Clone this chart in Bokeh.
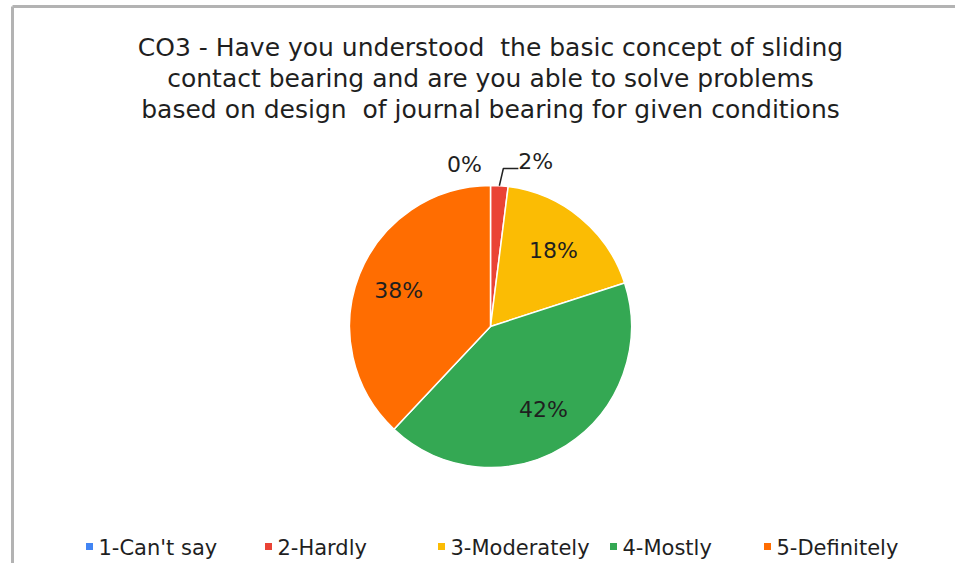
import math
from bokeh.plotting import figure
from bokeh.models import Range1d, ColumnDataSource
from bokeh.core.properties import value
from bokeh.embed import file_html
from bokeh.resources import INLINE

# ---- data ----
categories = ["1-Can't say", "2-Hardly", "3-Moderately", "4-Mostly", "5-Definitely"]
counts = [0, 1, 9, 21, 19]
colors = ["#4285F4", "#EA4335", "#FBBC04", "#34A853", "#FF6D01"]
title_lines = [
    "CO3 - Have you understood\u00a0 the basic concept of sliding",
    "contact bearing and are you able to solve problems",
    "based on design\u00a0 of journal bearing for given conditions",
]

W, H = 955, 563
FONT = "DejaVu Sans"
TXT = "#1f1f1f"

p = figure(width=W, height=H, output_backend="svg", toolbar_location=None,
           x_range=Range1d(0, W), y_range=Range1d(0, H), min_border=0)
p.axis.visible = False
p.grid.visible = False
p.outline_line_color = None
p.background_fill_color = "white"

def sx(x):
    return x

def sy(y):
    return H - y

# border
p.line([sx(12), sx(12)], [0, sy(6)], line_color="#b3b3b3", line_width=3)
p.line([sx(12), W], [sy(6), sy(6)], line_color="#b3b3b3", line_width=3)

# title
p.text(x=[sx(490)] * 3, y=[sy(47), sy(78), sy(109)], text=title_lines,
       text_font=value(FONT), text_font_size="25px", text_color=TXT,
       text_align="center", text_baseline="middle")

# pie
cx, cy, R = sx(490), sy(326), 141
total = sum(counts)
fr = [c / total for c in counts]
cum = [0]
for f in fr:
    cum.append(cum[-1] + f)
starts = [math.pi / 2 - 2 * math.pi * a for a in cum[:-1]]
ends = [math.pi / 2 - 2 * math.pi * a for a in cum[1:]]
src = ColumnDataSource(dict(start=starts, end=ends, color=colors))
p.wedge(x=cx, y=cy, radius=R, radius_units="screen", start_angle="start",
        end_angle="end", direction="clock", fill_color="color",
        line_color="white", line_width=1.5, source=src)

labels = [f"{round(f * 100)}%" for f in fr]
lx, ly = [], []
for i, f in enumerate(fr):
    mid = 2 * math.pi * (cum[i] + f / 2)
    if f >= 0.05:
        lx.append(cx + 0.70 * R * math.sin(mid))
        ly.append(cy + 0.70 * R * math.cos(mid))
big = [i for i, f in enumerate(fr) if f >= 0.05]
p.text(x=lx, y=ly, text=[labels[i] for i in big], text_font=value(FONT),
       text_font_size="22px", text_color=TXT, text_align="center",
       text_baseline="middle")

# small slice labels (0%, 2%)
a1 = 2 * math.pi * (cum[1] + fr[1] / 2)
ex, ey = cx + R * math.sin(a1), cy + R * math.cos(a1)
p.line([ex, ex + 4, ex + 19], [ey, sy(168), sy(168)], line_color="#222222", line_width=1.5)
p.text(x=[ex + 19], y=[sy(161)], text=[labels[1]], text_font=value(FONT),
       text_font_size="22px", text_color=TXT, text_align="left", text_baseline="middle")
p.text(x=[cx - 26], y=[sy(164)], text=[labels[0]], text_font=value(FONT),
       text_font_size="22px", text_color=TXT, text_align="center", text_baseline="middle")

# legend
leg_x = [89, 268, 441, 613, 767]
p.rect(x=[sx(v) for v in leg_x], y=[sy(546)] * 5, width=7, height=7,
       width_units="screen", height_units="screen", fill_color=colors, line_color=None)
p.text(x=[sx(v) + 9 for v in leg_x], y=[sy(547)] * 5, text=categories,
       text_font=value(FONT), text_font_size="21px", text_color=TXT,
       text_align="left", text_baseline="middle")

open("out.html", "w").write(file_html(p, INLINE))
